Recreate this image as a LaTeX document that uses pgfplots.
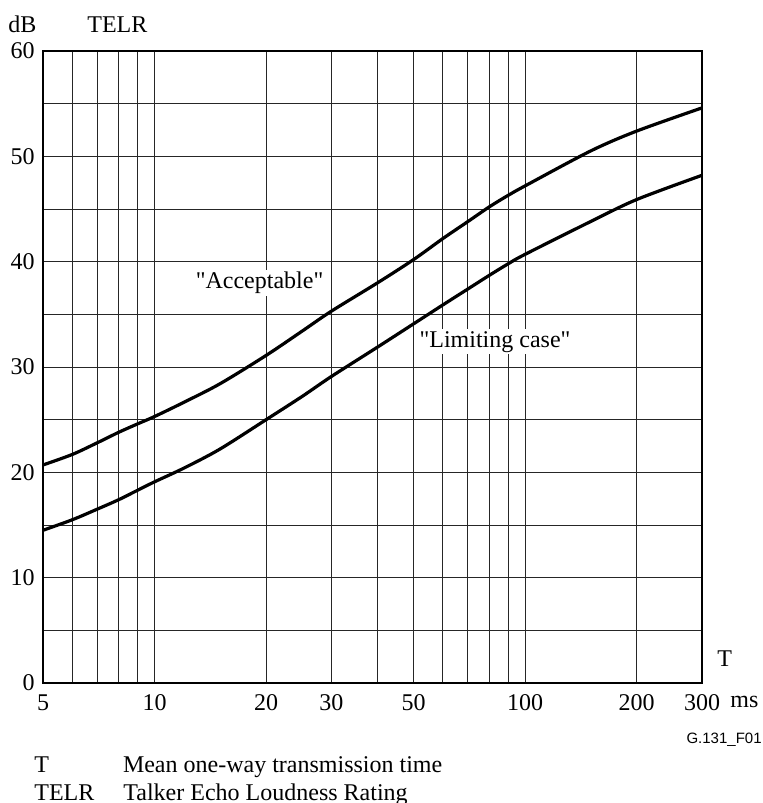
\documentclass[border=0pt,12pt]{standalone}
\usepackage{fontspec}
\setmainfont{Liberation Serif}
\newfontfamily\qfont{Liberation Serif}[Ligatures=TeXOff]
\newfontfamily\arialfont{Liberation Sans}
\usepackage{pgfplots}
\pgfplotsset{compat=1.18}
\pgfplotstableread{
x y
5 20.7
6 21.7
7 22.8
8 23.8
9 24.6
10 25.3
12 26.65
15 28.4
20 31.1
25 33.4
30 35.3
40 38.0
50 40.2
60 42.2
70 43.8
80 45.2
90 46.3
100 47.2
150 50.5
200 52.4
300 54.6
}\acceptable
\pgfplotstableread{
x y
5 14.5
6 15.5
7 16.5
8 17.4
9 18.3
10 19.1
12 20.4
15 22.2
20 25.0
25 27.2
30 29.1
40 31.9
50 34.1
60 35.9
70 37.4
80 38.7
90 39.8
100 40.7
150 43.8
200 45.9
300 48.2
}\limiting
\begin{document}
\begin{tikzpicture}
\path[use as bounding box] (-21.5pt,-60pt) rectangle (359.5pt,341.5pt);
\begin{axis}[
  at={(0,0)}, anchor=south west,
  scale only axis, width=329.5pt, height=316pt,
  xmode=log, log basis x=10,
  xmin=5, xmax=300, ymin=0, ymax=60,
  xtick={5,10,20,30,50,100,200,300},
  xticklabels={5,10,20,30,50,100,200,300},
  minor xtick={6,7,8,9,40,60,70,80,90},
  ytick={0,10,20,30,40,50,60},
  minor ytick={5,15,25,35,45,55},
  grid=both,
  major grid style={black!85, line width=0.5pt},
  minor grid style={black!85, line width=0.5pt},
  major tick length=0pt, minor tick length=0pt,
  axis line style={line width=0.6pt},
  /pgf/number format/assume math mode=true,
  xticklabel style={yshift=-1.5pt},
  clip=false,
]
\addplot[black, line width=1.6pt, smooth] table[x=x,y=y] {\acceptable};
\addplot[black, line width=1.6pt, smooth] table[x=x,y=y] {\limiting};
\node[fill=white, inner sep=1pt, font=\qfont] at (axis cs:19.2,38.0) {"Acceptable"};
\node[fill=white, inner sep=1pt, font=\qfont] at (axis cs:82.9,32.4) {"Limiting case"};
\end{axis}
\node[anchor=base west, inner sep=0] at (-17.5pt,325pt) {dB};
\node[anchor=base west, inner sep=0] at (22pt,325pt) {TELR};
\node[anchor=base west, inner sep=0] at (343.5pt,-12.5pt) {ms};
\node[anchor=base west, inner sep=0] at (337pt,8pt) {T};
\node[anchor=base east, inner sep=0, font=\arialfont\fontsize{7.5}{9}\selectfont] at (359.5pt,-30.5pt) {G.131\_F01};
\node[anchor=base west, inner sep=0] at (-4.5pt,-45pt) {T};
\node[anchor=base west, inner sep=0] at (39.8pt,-45pt) {Mean one-way transmission time};
\node[anchor=base west, inner sep=0] at (-4.5pt,-58.5pt) {TELR};
\node[anchor=base west, inner sep=0] at (40pt,-58.5pt) {Talker Echo Loudness Rating};
\end{tikzpicture}
\end{document}
